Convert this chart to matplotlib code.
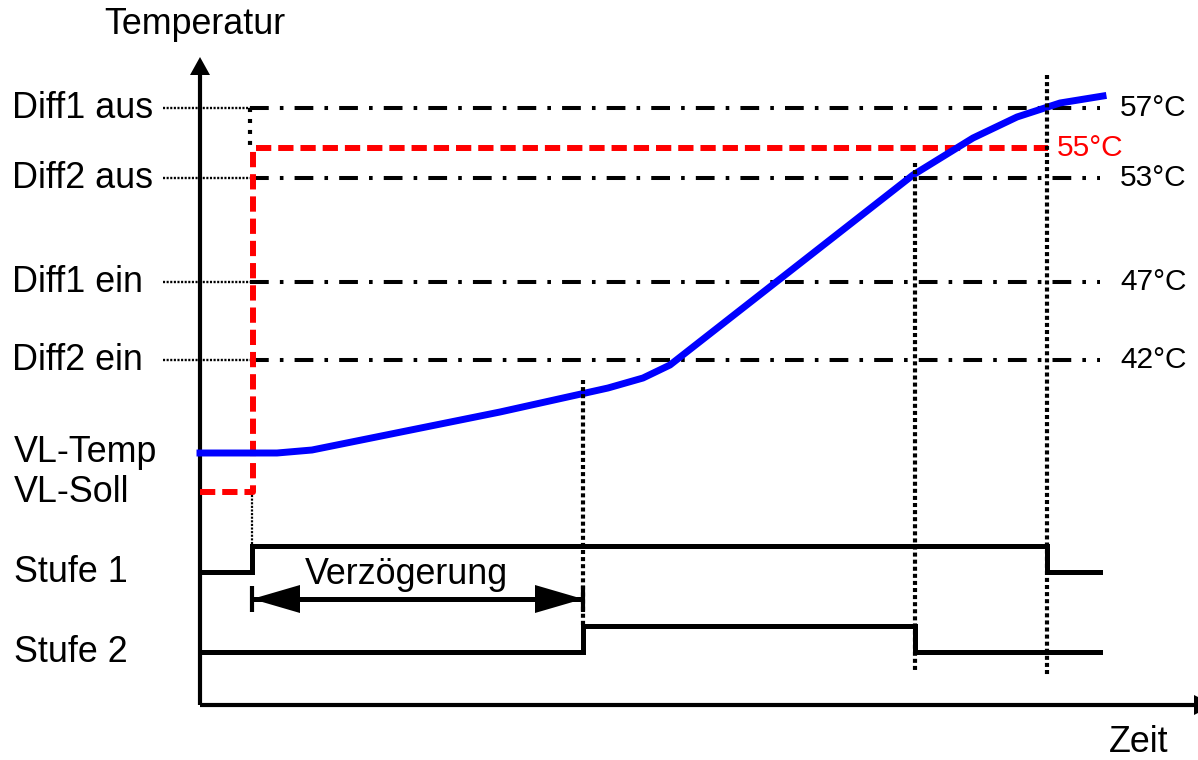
import numpy as np
import matplotlib
matplotlib.use("Agg")
import matplotlib.pyplot as plt

plt.rcParams['font.family'] = ['Liberation Sans', 'DejaVu Sans']
plt.rcParams['lines.scale_dashes'] = False

# diagram is laid out in a pixel-like frame: x = time, y grows downwards
x0, x_end = 200, 1100          # time axis start / end of the traces
y_axis = 705                   # position of the time axis

# switching thresholds (label, right-hand text, level)
diff_labels = ["Diff1 aus", "Diff2 aus", "Diff1 ein", "Diff2 ein"]
diff_temps = ["57°C", "53°C", "47°C", "42°C"]
diff_levels = [108, 178, 282, 360]

# setpoint (VL-Soll) and flow temperature (VL-Temp)
soll_t = [200, 253, 253, 1048]
soll_y = [492, 492, 148, 148]
soll_text = "55°C"

temp_t = [200, 277, 312, 500, 608, 643, 670, 913, 973, 1017, 1060, 1103]
temp_y = [453, 453, 450, 412, 388, 378, 365, 175, 138, 117, 103, 96]

# stage outputs
t_on1, t_off1 = 252, 1047
t_on2, t_off2 = 583, 915
stufe1_y = (572, 546)   # low, high
stufe2_y = (652, 626)

row_labels = ["VL-Temp", "VL-Soll", "Stufe 1", "Stufe 2"]
row_levels = [452, 492, 572, 652]

fig = plt.figure(figsize=(11.98, 7.6), dpi=100)
ax = fig.add_axes([0, 0, 1, 1])
ax.set_xlim(0, 1198)
ax.set_ylim(760, 0)
ax.axis('off')

fs = 25.8
fs_small = 21.5
dashdot = (0, (13.5, 8, 2.6, 8))
dotted = (0, (2.9, 2.2))
fine = (0, (1.5, 1.1))

# axes with arrow heads
ax.plot([x0, x0], [y_axis, 72], color='black', lw=3, solid_capstyle='butt')
ax.fill([x0 - 10, x0 + 10, x0], [75, 75, 57], color='black', lw=0)
ax.plot([x0, 1196], [y_axis, y_axis], color='black', lw=3, solid_capstyle='butt')
ax.fill([1194, 1194, 1214], [y_axis - 10, y_axis + 10, y_axis], color='black', lw=0)
ax.text(195, 25, "Temperatur", fontsize=fs, ha='center', va='center')
ax.text(1139, 742, "Zeit", fontsize=fs, ha='center', va='center')

# threshold lines
for lab, tt, lv in zip(diff_labels, diff_temps, diff_levels):
    ax.text(12, lv, lab, fontsize=fs, ha='left', va='center')
    ax.plot([163, 250], [lv, lv], color='black', lw=1.7, linestyle=fine)
    ax.plot([250, x_end], [lv, lv], color='black', lw=2.9, linestyle=dashdot, zorder=2)
    ax.text(1120, lv, tt, fontsize=fs_small, ha='left', va='center')

for lab, lv in zip(row_labels, row_levels):
    ax.text(14, lv, lab, fontsize=fs, ha='left', va='center')

# setpoint
ax.plot(soll_t, soll_y, color='#ff0000', lw=4.3, linestyle=(0, (11, 5)), zorder=3)
ax.text(1057, soll_y[-1], soll_text, fontsize=fs_small, color='#ff0000', ha='left', va='center')

# flow temperature
ax.plot(temp_t, temp_y, color='#0000ff', lw=5, solid_joinstyle='round', zorder=4)

# stage traces
ax.plot([x0, t_on1, t_on1, t_off1, t_off1, x_end],
        [stufe1_y[0], stufe1_y[0], stufe1_y[1], stufe1_y[1], stufe1_y[0], stufe1_y[0]],
        color='black', lw=3.6, solid_joinstyle='miter', zorder=3)
ax.plot([x0, t_on2, t_on2, t_off2, t_off2, x_end],
        [stufe2_y[0], stufe2_y[0], stufe2_y[1], stufe2_y[1], stufe2_y[0], stufe2_y[0]],
        color='black', lw=3.6, solid_joinstyle='miter', zorder=3)

# vertical marker lines
ax.plot([250, 250], [diff_levels[0], soll_y[2]], color='black', lw=3, linestyle=(0, (2.9, 5)), zorder=5)
ax.plot([t_on1, t_on1], [soll_y[0] + 3, stufe1_y[1]], color='black', lw=1.6, linestyle=fine, zorder=5)
ax.plot([t_on2, t_on2], [380, stufe2_y[1]], color='black', lw=3, linestyle=dotted, zorder=5)
ax.plot([t_off2, t_off2], [163, 673], color='black', lw=3, linestyle=dotted, zorder=5)
ax.plot([t_off1, t_off1], [75, 675], color='black', lw=3, linestyle=dotted, zorder=5)

# delay arrow
ya = 599
ax.plot([t_on1, t_on2], [ya, ya], color='black', lw=3.6, solid_capstyle='butt')
ax.fill([t_on1, t_on1 + 48, t_on1 + 48], [ya, ya - 14, ya + 14], color='black', lw=0)
ax.fill([t_on2, t_on2 - 48, t_on2 - 48], [ya, ya - 14, ya + 14], color='black', lw=0)
for xv in (t_on1, t_on2):
    ax.plot([xv, xv], [586, 612], color='black', lw=3, solid_capstyle='butt')
ax.text((t_on1 + t_on2) / 2 - 11, 575, "Verzögerung", fontsize=fs, ha='center', va='center')

fig.savefig("out.png", dpi=100)
